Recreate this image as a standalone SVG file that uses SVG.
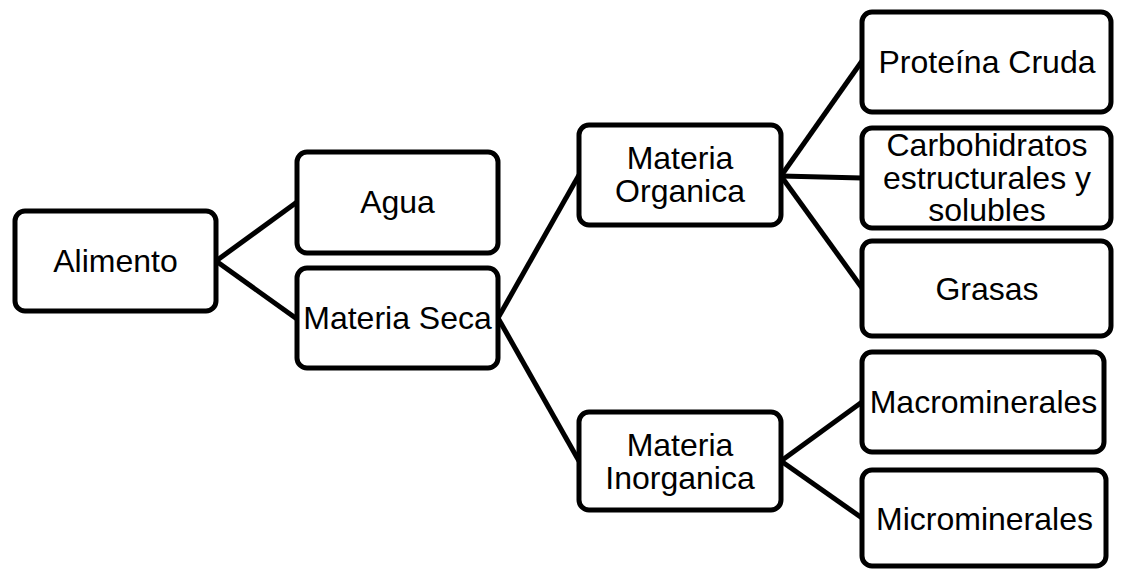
<svg xmlns="http://www.w3.org/2000/svg" width="1125" height="569" viewBox="0 0 1125 569">
<style>
.box{fill:#fff;stroke:#000;stroke-width:5}
.con{stroke:#000;stroke-width:5;fill:none}
text{font-family:"Liberation Sans",Arial,sans-serif;font-size:32px;fill:#000;text-anchor:middle}
</style>
<rect width="1125" height="569" fill="#fff"/>
<g id="connectors">
<line class="con" x1="216" y1="261" x2="297" y2="202"/>
<line class="con" x1="216" y1="261" x2="297" y2="319"/>
<line class="con" x1="498" y1="318" x2="579" y2="175"/>
<line class="con" x1="498" y1="318" x2="579" y2="461"/>
<line class="con" x1="781" y1="176" x2="862" y2="61"/>
<line class="con" x1="781" y1="176" x2="862" y2="178"/>
<line class="con" x1="781" y1="176" x2="862" y2="288"/>
<line class="con" x1="781" y1="461" x2="862" y2="402"/>
<line class="con" x1="781" y1="461" x2="862" y2="518"/>
</g>
<g id="alimento"><rect class="box" x="15" y="211" width="201" height="100" rx="10"/><text x="115.5" y="272">Alimento</text></g>
<g id="agua"><rect class="box" x="297" y="152" width="201" height="101" rx="10"/><text x="397.5" y="213">Agua</text></g>
<g id="materia-seca"><rect class="box" x="297" y="268" width="201" height="100" rx="10"/><text x="397.5" y="329">Materia Seca</text></g>
<g id="materia-organica"><rect class="box" x="579" y="125" width="202" height="100" rx="10"/><text x="680" y="169">Materia</text><text x="680" y="202">Organica</text></g>
<g id="materia-inorganica"><rect class="box" x="579" y="412" width="202" height="98" rx="10"/><text x="680" y="456">Materia</text><text x="680" y="489">Inorganica</text></g>
<g id="proteina"><rect class="box" x="862" y="12" width="249" height="100" rx="10"/><text x="987" y="73">Proteína Cruda</text></g>
<g id="carbohidratos"><rect class="box" x="862" y="128" width="249" height="100" rx="10"/><text x="987" y="156">Carbohidratos</text><text x="987" y="189">estructurales y</text><text x="987" y="221">solubles</text></g>
<g id="grasas"><rect class="box" x="862" y="241" width="249" height="95" rx="10"/><text x="987" y="300">Grasas</text></g>
<g id="macrominerales"><rect class="box" x="862" y="352" width="242" height="100" rx="10"/><text x="983.5" y="413">Macrominerales</text></g>
<g id="microminerales"><rect class="box" x="862" y="470" width="244" height="96" rx="10"/><text x="984.5" y="530">Microminerales</text></g>
</svg>
